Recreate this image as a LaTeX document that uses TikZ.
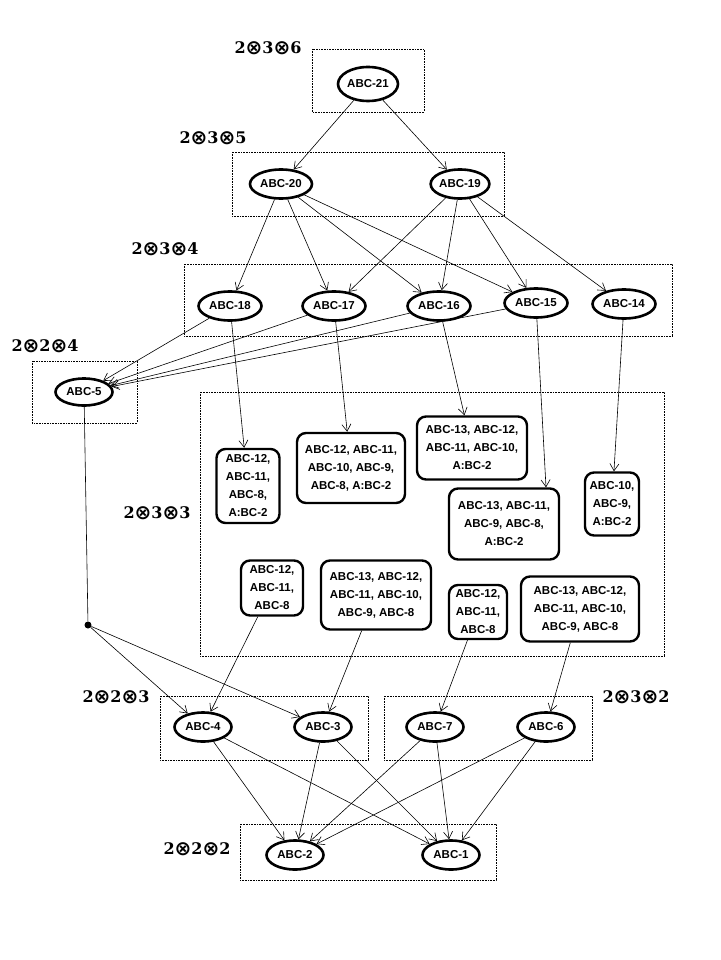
\documentclass[tikz,border=0pt]{standalone}
\usepackage{fontspec}
\setmainfont{Liberation Sans}
\newfontfamily\lvlfont{DejaVu Serif}
\newfontfamily\oxfont{DejaVu Sans}
\usetikzlibrary{arrows.meta}
\usetikzlibrary{shapes}

\newcommand{\ox}{\raisebox{-1pt}{\oxfont\bfseries\fontsize{20}{20}\selectfont ⊗}}

\tikzset{
	mod/.style={ellipse, draw, line width=2.6pt, inner xsep=0pt, inner ysep=0pt,
		minimum width=57pt, minimum height=29pt,
		font=\bfseries\fontsize{11.5}{13}\selectfont},
	setbox/.style={rectangle, draw, rounded corners=9pt, line width=2.4pt,
		align=center, inner sep=0pt,
		font=\bfseries\fontsize{11.5}{18}\selectfont},
	frame/.style={densely dotted, line width=0.6pt},
	lvl/.style={font=\lvlfont\bfseries\fontsize{16}{16}\selectfont, inner sep=0pt},
	link/.style={-{Straight Barb[length=7pt,width=9pt]}, line width=0.6pt},
	dot/.style={circle, fill, inner sep=0pt, minimum size=7pt}
}

\begin{document}
\begin{tikzpicture}[x=1pt,y=-1pt]
	\useasboundingbox (0,0) rectangle (720,960);

	% frames of the levels
	\draw[frame] (312,49) rectangle (424,112);
	\draw[frame] (232,152) rectangle (504,216);
	\draw[frame] (184,264) rectangle (672,336);
	\draw[frame] (32,361) rectangle (137,423);
	\draw[frame] (200,392) rectangle (664,656);
	\draw[frame] (160,696) rectangle (368,760);
	\draw[frame] (384,696) rectangle (592,760);
	\draw[frame] (240,824) rectangle (496,880);

	\node[lvl] (l236) at (268,48) {2\ox3\ox6};
	\node[lvl] (l235) at (213,138) {2\ox3\ox5};
	\node[lvl] (l234) at (165,249) {2\ox3\ox4};
	\node[lvl] (l224) at (45,346) {2\ox2\ox4};
	\node[lvl] (l233) at (157,513) {2\ox3\ox3};
	\node[lvl] (l223) at (116,697) {2\ox2\ox3};
	\node[lvl] (l232) at (636,697) {2\ox3\ox2};
	\node[lvl] (l222) at (197,849) {2\ox2\ox2};

	\node[mod, minimum width=60pt, minimum height=34pt] (a21) at (368,84) {ABC-21};
	\node[mod, minimum width=62pt] (a20) at (281,184) {ABC-20};
	\node[mod] (a19) at (460,184) {ABC-19};
	\node[mod, minimum width=63pt] (a18) at (230,306) {ABC-18};
	\node[mod, minimum width=63pt] (a17) at (334,306) {ABC-17};
	\node[mod, minimum width=63pt] (a16) at (439,306) {ABC-16};
	\node[mod, minimum width=63pt] (a15) at (536,303) {ABC-15};
	\node[mod, minimum width=63pt] (a14) at (624,304) {ABC-14};
	\node[mod, minimum height=27pt] (a5) at (84,392) {ABC-5};
	\node[mod] (a4) at (203,727) {ABC-4};
	\node[mod] (a3) at (323,727) {ABC-3};
	\node[mod] (a7) at (435,727) {ABC-7};
	\node[mod] (a6) at (546,727) {ABC-6};
	\node[mod] (a2) at (295,855) {ABC-2};
	\node[mod] (a1) at (451,855) {ABC-1};

	\node[setbox, minimum width=63pt, minimum height=74pt] (bA) at (248,486)
		{ABC-12,\\ABC-11,\\ABC-8,\\A:BC-2};
	\node[setbox, minimum width=108pt, minimum height=70pt] (bB) at (351,468)
		{ABC-12, ABC-11,\\ABC-10, ABC-9,\\ABC-8, A:BC-2};
	\node[setbox, minimum width=110pt, minimum height=63pt] (bC) at (472,448)
		{ABC-13, ABC-12,\\ABC-11, ABC-10,\\A:BC-2};
	\node[setbox, minimum width=110pt, minimum height=71pt] (bD) at (504,524)
		{ABC-13, ABC-11,\\ABC-9, ABC-8,\\A:BC-2};
	\node[setbox, minimum width=54pt, minimum height=63pt] (bE) at (612,504)
		{ABC-10,\\ABC-9,\\A:BC-2};
	\node[setbox, minimum width=62pt, minimum height=55pt] (bF) at (272,588)
		{ABC-12,\\ABC-11,\\ABC-8};
	\node[setbox, minimum width=110pt, minimum height=69pt] (bG) at (376,595)
		{ABC-13, ABC-12,\\ABC-11, ABC-10,\\ABC-9, ABC-8};
	\node[setbox, minimum width=58pt, minimum height=54pt] (bH) at (478,612)
		{ABC-12,\\ABC-11,\\ABC-8};
	\node[setbox, minimum width=118pt, minimum height=65pt] (bI) at (580,609)
		{ABC-13, ABC-12,\\ABC-11, ABC-10,\\ABC-9, ABC-8};

	\node[dot] (jn) at (88,625) {};

	\draw[link] (a21) -- (a20);
	\draw[link] (a21) -- (a19);
	\foreach \t in {a18,a17,a16,a15}
		\draw[link] (a20) -- (\t);
	\foreach \t in {a17,a16,a15,a14}
		\draw[link] (a19) -- (\t);
	\foreach \s in {a18,a17,a16,a15}
		\draw[link] (\s) -- (a5);
	\draw[link] (a18) -- (bA);
	\draw[link] (a17) -- (bB);
	\draw[link] (a16) -- (bC);
	\draw[link] (a15) -- ([xshift=42pt]bD.north);
	\draw[link] (a14) -- (bE);
	\draw[line width=0.6pt] (a5) -- (jn);
	\draw[link] (jn) -- (a4);
	\draw[link] (jn) -- (a3);
	\draw[link] (bF) -- (a4);
	\draw[link] (bG) -- (a3);
	\draw[link] (bH) -- (a7);
	\draw[link] (bI) -- (a6);
	\foreach \s in {a4,a3,a7,a6}{
		\draw[link] (\s) -- (a2);
		\draw[link] (\s) -- (a1);
	}
\end{tikzpicture}
\end{document}
